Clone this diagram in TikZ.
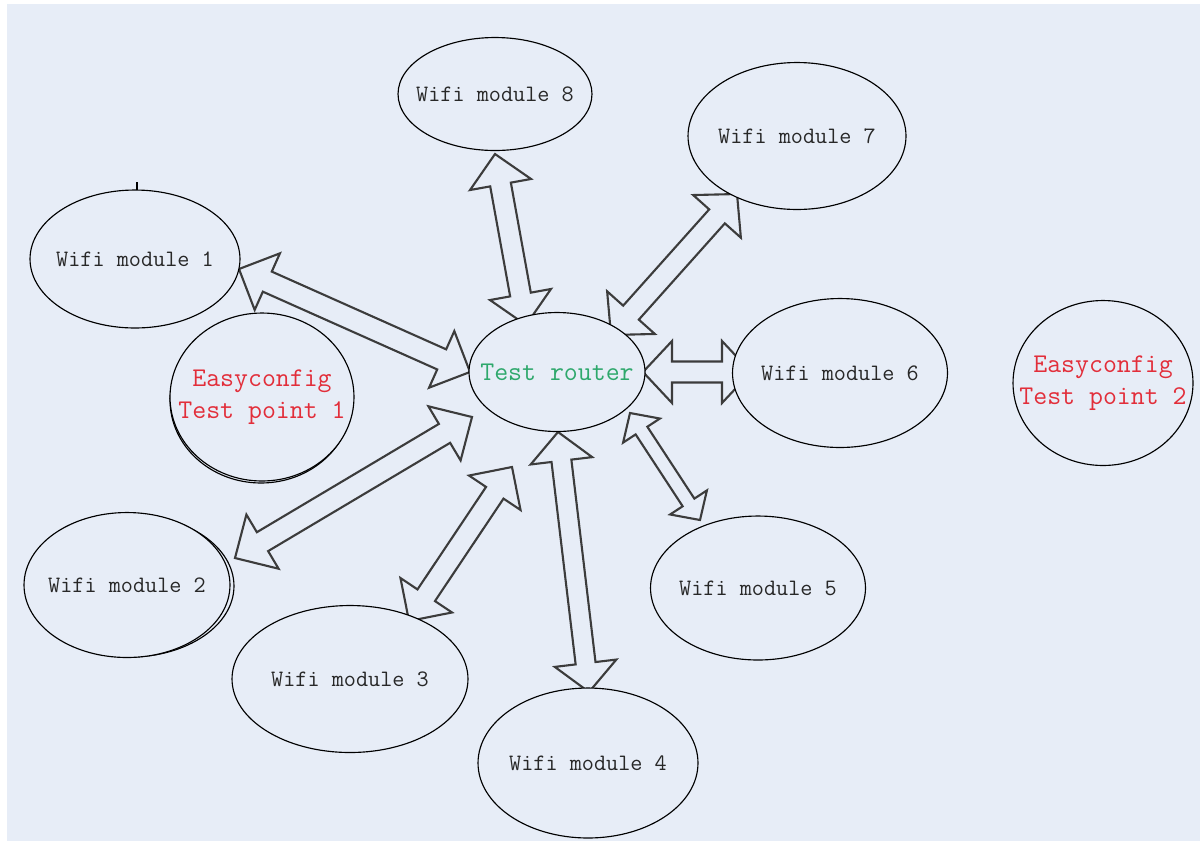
\documentclass[tikz,border=0pt]{standalone}
\usetikzlibrary{shapes.geometric,calc}
\pgfdeclarelayer{bottom}
\pgfdeclarelayer{back}
\pgfsetlayers{bottom,back,main}
\definecolor{bgblue}{RGB}{231,237,247}
\definecolor{easyred}{RGB}{226,46,58}
\definecolor{routergreen}{RGB}{46,168,108}
\definecolor{arrowgray}{RGB}{60,60,60}
\definecolor{textgray}{RGB}{40,40,40}
\newcommand{\wifitext}{\ttfamily\fontsize{13.4}{16}\selectfont}
\newcommand{\easytext}{\ttfamily\fontsize{15.4}{18.2}\selectfont}
\newcommand{\linkarrow}[5]{%
    \coordinate (ha) at ($(#1)!#3!(#2)$);
    \coordinate (hb) at ($(#2)!#3!(#1)$);
    \draw[link]
    (#1) -- ($(ha)!#4!90:(#1)$) -- ($(ha)!#5!90:(#1)$)
    -- ($(hb)!#5!-90:(#2)$) -- ($(hb)!#4!-90:(#2)$) -- (#2)
    -- ($(hb)!#4!90:(#2)$) -- ($(hb)!#5!90:(#2)$)
    -- ($(ha)!#5!-90:(#1)$) -- ($(ha)!#4!-90:(#1)$) -- cycle;}
\begin{document}
\begin{tikzpicture}[x = 0.02cm, y = -0.02cm,
    blob/.style = {ellipse, draw, line width=0.65pt, fill=bgblue, inner sep=-10mm, align=center},
    module/.style = {blob, font=\wifitext, text=textgray},
    testpoint/.style = {blob, font=\easytext, text=easyred},
    link/.style = {draw=arrowgray, line width=1.2pt, line join=miter}]
    \useasboundingbox (0,0) rectangle (1202,843);
    \begin{pgfonlayer}{bottom}
    \fill[white] (0,0) rectangle (1202,843);
    \fill[bgblue] (7,4) rectangle (1200,841);
    \end{pgfonlayer}
    \node[blob, font=\easytext, text=routergreen, minimum width=3.52cm, minimum height=2.38cm]
    (router) at (557,372) {Test router};
    \node[module, minimum width=4.2cm, minimum height=2.76cm] (m1) at (135,259) {Wifi module 1};
    \node[module, minimum width=4.12cm, minimum height=2.9cm] (m2) at (127,585) {Wifi module 2};
    \node[module, minimum width=4.72cm, minimum height=2.94cm] (m3) at (350,679) {Wifi module 3};
    \node[module, minimum width=4.4cm, minimum height=3cm] (m4) at (588,763) {Wifi module 4};
    \node[module, minimum width=4.3cm, minimum height=2.88cm] (m5) at (758,588) {Wifi module 5};
    \node[module, minimum width=4.3cm, minimum height=2.98cm] (m6) at (840,373) {Wifi module 6};
    \node[module, minimum width=4.36cm, minimum height=2.94cm] (m7) at (797,136) {Wifi module 7};
    \node[module, minimum width=3.88cm, minimum height=2.26cm] (m8) at (495,94) {Wifi module 8};
    \node[testpoint, minimum width=3.68cm, minimum height=3.36cm] (tp1) at (262,397) {Easyconfig\\Test point 1};
    \node[testpoint, minimum width=3.6cm, minimum height=3.3cm] (tp2) at (1103,383) {Easyconfig\\Test point 2};
    \draw[line width=0.65pt] ($(m1.north)+(2,1)$) -- ++(0,-8);
    \begin{pgfonlayer}{back}
    \draw[line width=0.65pt] ($(m2)+(3,1)$) ellipse [x radius=2.08cm, y radius=1.42cm];
    \draw[line width=0.65pt] ($(tp1)+(-1,3)$) ellipse [x radius=1.82cm, y radius=1.66cm];
    \coordinate (r1) at ($(router)+(-87,0)$);
    \coordinate (t1) at ($(m1)+(104,10)$);
    \coordinate (r2) at ($(router)+(-85,45)$);
    \coordinate (t2) at ($(m2)+(108,-27)$);
    \coordinate (r3) at ($(router)+(-45,95)$);
    \coordinate (t3) at ($(m3)+(59,-58)$);
    \coordinate (r4) at ($(router)+(1,60)$);
    \coordinate (t4) at ($(m4)+(1,-71)$);
    \coordinate (r5) at ($(router)+(73,41)$);
    \coordinate (t5) at ($(m5)+(-58,-68)$);
    \coordinate (r6) at ($(router)+(86,0)$);
    \coordinate (t6) at ($(m6)+(-89,-1)$);
    \coordinate (r7) at ($(router)+(54,-37)$);
    \coordinate (t7) at ($(m7)+(-60,58)$);
    \coordinate (r8) at ($(router)+(-31,-47)$);
    \coordinate (t8) at ($(m8)+(0,60)$);
    \linkarrow{t1}{r1}{0.62cm}{0.62cm}{0.22cm}
    \linkarrow{r2}{t2}{0.64cm}{0.63cm}{0.22cm}
    \linkarrow{r3}{t3}{0.62cm}{0.62cm}{0.21cm}
    \linkarrow{r4}{t4}{0.58cm}{0.62cm}{0.2cm}
    \linkarrow{r5}{t5}{0.42cm}{0.44cm}{0.14cm}
    \linkarrow{r6}{t6}{0.58cm}{0.62cm}{0.21cm}
    \linkarrow{r7}{t7}{0.6cm}{0.64cm}{0.21cm}
    \linkarrow{r8}{t8}{0.62cm}{0.62cm}{0.21cm}
    \end{pgfonlayer}
\end{tikzpicture}
\end{document}
